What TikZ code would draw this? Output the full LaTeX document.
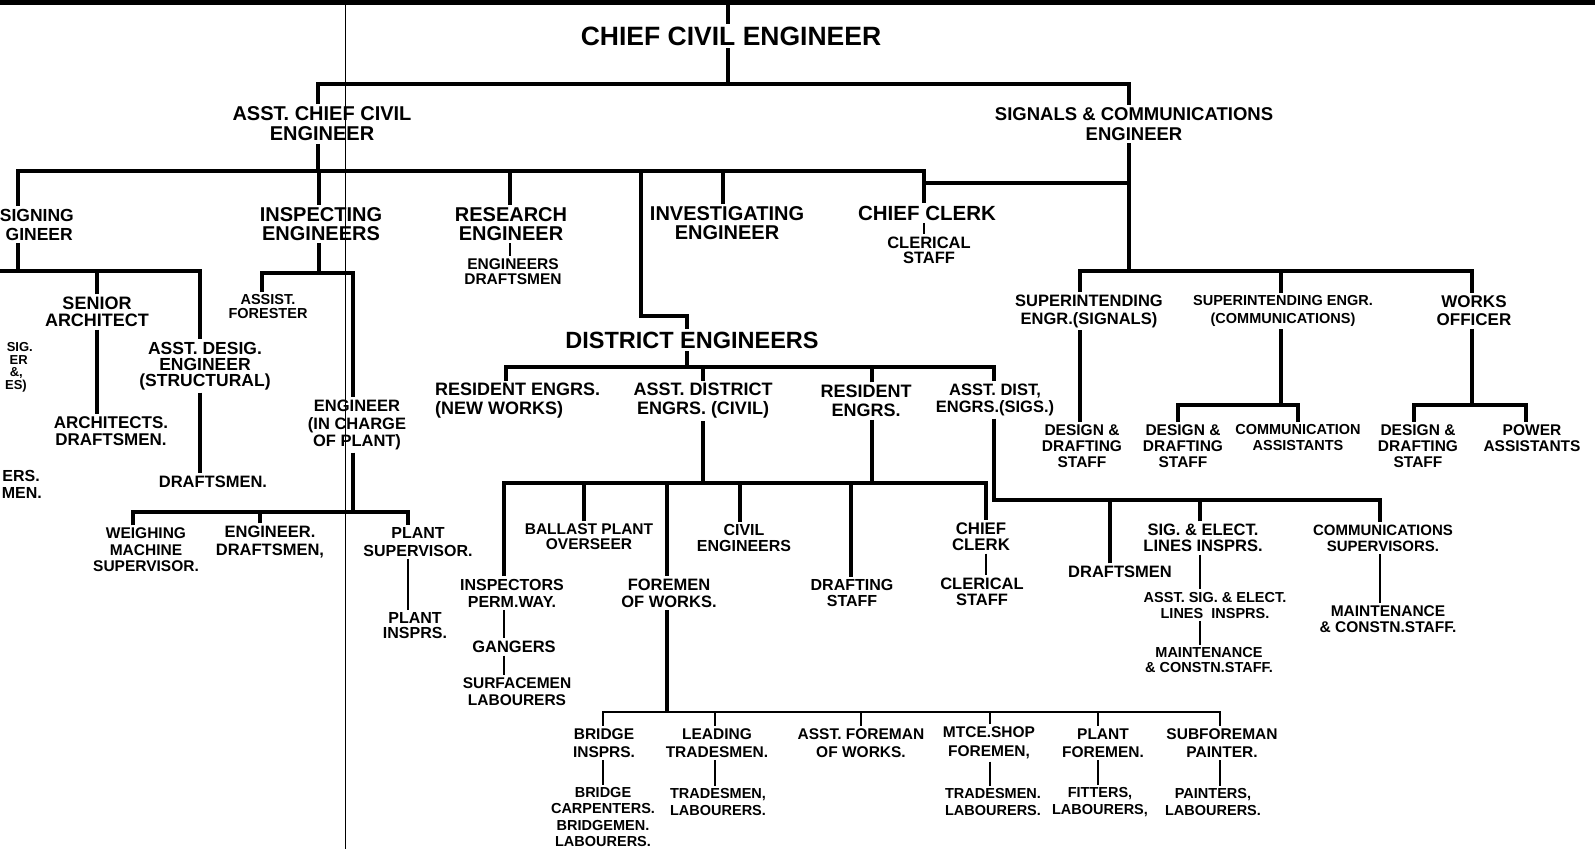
\documentclass[tikz,border=0pt]{standalone}
\usepackage{fontspec}
\setmainfont{Liberation Sans}
\newcommand\mkcp[2]{\coordinate (#1-t) at ([xshift=#2]#1.north);\coordinate (#1-b) at ([xshift=#2]#1.south);}
\begin{document}
\begin{tikzpicture}[x=1pt,y=-1pt,
  lab/.style={inner sep=2.5pt,align=center},
  fs/.style 2 args={font=\bfseries\fontsize{#1}{#2}\selectfont},
  conn/.style={line width=3.5pt,line join=miter},
  conn2/.style={line width=2.7pt},
  thinc/.style={line width=1.8pt}]
\path[use as bounding box] (0,0) rectangle (1595,849);
\fill[white] (0,0) rectangle (1595,849);
\clip (0,0) rectangle (1595,849);
\fill (0,0) rectangle (1595,5);
\draw[line width=0.9pt] (345,0) -- (345,849);
\coordinate (topbar) at (0,4);
\coordinate (y1) at (0,84);
\coordinate (y2) at (0,171);
\coordinate (y2b) at (0,183);
\coordinate (y3) at (0,271);
\coordinate (yd) at (0,271);
\coordinate (y5) at (0,273);
\coordinate (y6) at (0,512);
\coordinate (yinv) at (0,316);
\coordinate (y7) at (0,367);
\coordinate (y8) at (0,483);
\coordinate (y9) at (0,500);
\coordinate (y10) at (0,405);
\coordinate (y11) at (0,712);
\coordinate (xinv) at (641,0);
\coordinate (xdes) at (18,0);
\coordinate (xl) at (-10,0);
% ---- top levels
\node[lab,fs={26.5}{28}] (cce) at (731,36) {CHIEF CIVIL ENGINEER};
\node[lab,fs={20}{20}] (acce) at (322,124) {ASST.\ CHIEF CIVIL\\ENGINEER};
\node[lab,fs={18.5}{20}] (sce) at (1134,124) {SIGNALS \& COMMUNICATIONS\\ENGINEER};
\node[lab,fs={17.5}{19},anchor=east] (des1) at (76.5,215) {SIGNING};
\node[lab,fs={17.5}{19},anchor=east] (des2) at (75.5,234) {GINEER};
\node[lab,fs={20}{19}] (insp) at (321,224) {INSPECTING\\ENGINEERS};
\node[lab,fs={20}{19}] (res) at (511,224) {RESEARCH\\ENGINEER};
\node[lab,fs={20}{19}] (inv) at (727,223) {INVESTIGATING\\ENGINEER};
\node[lab,fs={20.5}{20}] (cc) at (927,213) {CHIEF CLERK};
\node[lab,fs={16.5}{15}] (ccs) at (929,250) {CLERICAL\\STAFF};
\node[lab,fs={15.5}{15}] (resd) at (513,272) {ENGINEERS\\DRAFTSMEN};
% ---- signals side
\node[lab,fs={16.5}{18}] (sup1) at (1089,311) {SUPERINTENDING\\ENGR.(SIGNALS)};
\node[lab,fs={14.5}{18}] (sup2) at (1283,311) {SUPERINTENDING ENGR.\\(COMMUNICATIONS)};
\node[lab,fs={17}{18}] (wo) at (1474,311) {WORKS\\OFFICER};
\node[lab,fs={15.5}{16}] (dd1) at (1082,446) {DESIGN \&\\DRAFTING\\STAFF};
\node[lab,fs={15.5}{16}] (dd2) at (1183,446) {DESIGN \&\\DRAFTING\\STAFF};
\node[lab,fs={14.5}{16}] (ca) at (1298,438) {COMMUNICATION\\ASSISTANTS};
\node[lab,fs={15.5}{16}] (dd3) at (1418,446) {DESIGN \&\\DRAFTING\\STAFF};
\node[lab,fs={15.5}{16}] (pa) at (1532,438) {POWER\\ASSISTANTS};
% ---- designing side
\node[lab,fs={18}{17}] (sa) at (97,312) {SENIOR\\ARCHITECT};
\node[lab,fs={17.5}{16}] (ade) at (205,366) {ASST.\ DESIG.\\ENGINEER\\(STRUCTURAL)};
\node[lab,fs={17}{17}] (ad) at (111,431) {ARCHITECTS.\\DRAFTSMEN.};
\node[lab,fs={16.5}{16}] (dsm1) at (213,482) {DRAFTSMEN.};
\node[lab,fs={13}{13},inner sep=1pt,anchor=east] (fr1) at (34,347) {SIG.};
\node[lab,fs={13}{13},inner sep=1pt,anchor=east] (fr2) at (29,360) {ER};
\node[lab,fs={13}{13},inner sep=1pt,anchor=east] (fr3) at (24,373) {\&,};
\node[lab,fs={13}{13},inner sep=1pt,anchor=east] (fr4) at (28,386) {ES)};
\node[lab,fs={16}{16},anchor=east] (fr5) at (42.5,476) {ERS.};
\node[lab,fs={16}{16},anchor=east] (fr6) at (44.5,493) {MEN.};
% ---- inspecting side
\node[lab,fs={14.5}{14}] (af) at (268,307) {ASSIST.\\FORESTER};
\node[lab,fs={16.5}{17.5}] (eic) at (357,425) {ENGINEER\\(IN CHARGE\\OF PLANT)};
\node[lab,fs={15.5}{16.5}] (wm) at (146,550) {WEIGHING\\MACHINE\\SUPERVISOR.};
\node[lab,fs={16.5}{18}] (ed) at (270,542) {ENGINEER.\\DRAFTSMEN,};
\node[lab,fs={16}{18}] (ps) at (418,542) {PLANT\\SUPERVISOR.};
\node[lab,fs={16}{15}] (pi) at (415,626) {PLANT\\INSPRS.};
% ---- district
\node[lab,fs={23.5}{24}] (de) at (692,340) {DISTRICT ENGINEERS};
\node[lab,fs={18}{19},align=left,anchor=west] (re1) at (432.5,401) {RESIDENT ENGRS.\\(NEW WORKS)};
\node[lab,fs={18}{19}] (ade2) at (703,401) {ASST.\ DISTRICT\\ENGRS.\ (CIVIL)};
\node[lab,fs={18}{19}] (re2) at (866,401) {RESIDENT\\ENGRS.};
\node[lab,fs={16.5}{17}] (ads) at (995,400) {ASST.\ DIST,\\ENGRS.(SIGS.)};
% ---- civil level
\node[lab,fs={15.5}{15}] (bpo) at (589,537) {BALLAST PLANT\\OVERSEER};
\node[lab,fs={16}{16}] (ce) at (744,538) {CIVIL\\ENGINEERS};
\node[lab,fs={16}{17}] (ip) at (512,593) {INSPECTORS\\PERM.WAY.};
\node[lab,fs={16.5}{17}] (fw) at (669,593) {FOREMEN\\OF WORKS.};
\node[lab,fs={16}{16}] (ds) at (852,593) {DRAFTING\\STAFF};
\node[lab,fs={16.8}{16}] (cc2) at (981,537) {CHIEF\\CLERK};
\node[lab,fs={16.5}{16}] (ccs2) at (982,592) {CLERICAL\\STAFF};
\node[lab,fs={16.5}{17}] (gang) at (514,647) {GANGERS};
\node[lab,fs={15.5}{17}] (sl) at (517,692) {SURFACEMEN\\LABOURERS};
% ---- sigs level
\node[lab,fs={16.5}{16}] (dsm2) at (1120,572) {DRAFTSMEN};
\node[lab,fs={16.5}{16}] (sig) at (1203,538) {SIG.\ \& ELECT.\\LINES INSPRS.};
\node[lab,fs={14.5}{16}] (asig) at (1215,605) {ASST.\ SIG.\ \& ELECT.\\LINES\ \ INSPRS.};
\node[lab,fs={14.5}{15}] (mc1) at (1209,660) {MAINTENANCE\\\& CONSTN.STAFF.};
\node[lab,fs={15}{16}] (cs) at (1383,538) {COMMUNICATIONS\\SUPERVISORS.};
\node[lab,fs={15.5}{16}] (mc2) at (1388,619) {MAINTENANCE\\\& CONSTN.STAFF.};
% ---- foremen level
\node[lab,fs={15.5}{18.5}] (bi) at (604,743) {BRIDGE\\INSPRS.};
\node[lab,fs={15.5}{18.5}] (lt) at (717,743) {LEADING\\TRADESMEN.};
\node[lab,fs={15.5}{18.5}] (afw) at (861,743) {ASST.\ FOREMAN\\OF WORKS.};
\node[lab,fs={15.5}{18.5}] (mtce) at (989,743) {MTCE.SHOP\\FOREMEN,};
\node[lab,fs={15.5}{18.5}] (pf) at (1103,743) {PLANT\\FOREMEN.};
\node[lab,fs={15.5}{18.5}] (sp) at (1222,743) {SUBFOREMAN\\PAINTER.};
\node[lab,fs={14.5}{16.3}] (bcl) at (603,817) {BRIDGE\\CARPENTERS.\\BRIDGEMEN.\\LABOURERS.};
\node[lab,fs={14.5}{17}] (tl1) at (718,802) {TRADESMEN,\\LABOURERS.};
\node[lab,fs={14.5}{17}] (tl2) at (993,802) {TRADESMEN.\\LABOURERS.};
\node[lab,fs={14.5}{17}] (fl) at (1100,802) {FITTERS,\\LABOURERS,};
\node[lab,fs={14.5}{17}] (pl) at (1213,802) {PAINTERS,\\LABOURERS.};
% ---- connection points
\coordinate (des-t) at (xdes |- des1.north);
\coordinate (des-b) at (xdes |- des2.south);
\mkcp{cce}{-3}\mkcp{acce}{-4}\mkcp{sce}{-5}\mkcp{insp}{-2}\mkcp{res}{-1}
\mkcp{inv}{-4}\mkcp{cc}{-3}\mkcp{sup1}{-9}\mkcp{sup2}{-2}\mkcp{wo}{-2}\mkcp{dd1}{-2}
\mkcp{dd2}{-5}\mkcp{ca}{0}\mkcp{dd3}{-4}\mkcp{pa}{-6}\mkcp{sa}{0}\mkcp{ade}{-5}
\mkcp{af}{-6}\mkcp{eic}{-4}\mkcp{wm}{-13}\mkcp{ed}{-10}\mkcp{ps}{-10}\mkcp{de}{-5}
\mkcp{ade2}{0}\mkcp{re2}{6}\mkcp{ads}{-1}\mkcp{ip}{-8}\mkcp{bpo}{-5}\mkcp{fw}{-2}
\mkcp{ce}{-4}\mkcp{ds}{-1}\mkcp{cc2}{5}\mkcp{dsm2}{-10}\mkcp{sig}{-3}\mkcp{cs}{-3}
\mkcp{bi}{-1}\mkcp{lt}{-2}\mkcp{afw}{0}\mkcp{mtce}{1}\mkcp{pf}{-5}\mkcp{sp}{-2}
\coordinate (re1-t) at ([xshift=73.5]re1.north west);
% ---- connectors
\draw[conn] (cce-t) -- (cce-t |- topbar);
\draw[conn] (cce-b) -- (cce-b |- y1);
\draw[conn] (acce-t) -- (acce-t |- y1) -- (sce-t |- y1) -- (sce-t);
\draw[conn] (acce-b) -- (acce-b |- y2);
\draw[conn] (des-t) -- (des-t |- y2) -- (cc-t |- y2) -- (cc-t);
\draw[conn] (insp-t) -- (insp-t |- y2);
\draw[conn] (res-t) -- (res-t |- y2);
\draw[conn] (inv-t) -- (inv-t |- y2);
\draw[conn] (xinv |- y2) -- (xinv |- yinv) -- (de-t |- yinv) -- (de-t);
\draw[conn] (cc-t |- y2b) -- (sce-b |- y2b);
\draw[conn] (sce-b) -- (sce-b |- y3);
\draw[thinc] (cc-b) -- (cc-b |- ccs.north);
\draw[thinc] (res-b) -- (res-b |- resd.north);
% signals
\draw[conn] (sup1-t) -- (sup1-t |- y3) -- (wo-t |- y3) -- (wo-t);
\draw[conn] (sup2-t) -- (sup2-t |- y3);
\draw[conn] (sup1-b) -- (sup1-b |- dd1.north);
\draw[conn] (sup2-b) -- (sup2-b |- y10);
\draw[conn] (dd2-t) -- (dd2-t |- y10) -- (ca-t |- y10) -- (ca-t);
\draw[conn] (wo-b) -- (wo-b |- y10);
\draw[conn] (dd3-t) -- (dd3-t |- y10) -- (pa-t |- y10) -- (pa-t);
% designing
\draw[conn] (des-b) -- (des-b |- yd);
\draw[conn] (xl |- yd) -- (ade-t |- yd) -- (ade-t);
\draw[conn] (sa-t) -- (sa-t |- yd);
\draw[conn] (sa-b) -- (sa-b |- ad.north);
\draw[conn] (ade-b) -- (ade-b |- dsm1.north);
% inspecting
\draw[conn] (insp-b) -- (insp-b |- y5);
\draw[conn] (af-t) -- (af-t |- y5) -- (eic-t |- y5) -- (eic-t);
\draw[conn] (eic-b) -- (eic-b |- y6);
\draw[conn] (wm-t) -- (wm-t |- y6) -- (ps-t |- y6) -- (ps-t);
\draw[conn] (ed-t) -- (ed-t |- y6);
\draw[conn2] (ps-b) -- (ps-b |- pi.north);
% district
\draw[conn] (de-b) -- (de-b |- y7);
\draw[conn] (re1-t) -- (re1-t |- y7) -- (ads-t |- y7) -- (ads-t);
\draw[conn] (ade2-t) -- (ade2-t |- y7);
\draw[conn] (re2-t) -- (re2-t |- y7);
% civil
\draw[conn] (ade2-b) -- (ade2-b |- y8);
\draw[conn] (re2-b) -- (re2-b |- y8);
\draw[conn] (ip-t) -- (ip-t |- y8) -- (cc2-t |- y8) -- (cc2-t);
\draw[conn] (bpo-t) -- (bpo-t |- y8);
\draw[conn] (fw-t) -- (fw-t |- y8);
\draw[conn] (ce-t) -- (ce-t |- y8);
\draw[conn] (ds-t) -- (ds-t |- y8);
\draw[conn2] (cc2-b) -- (cc2-b |- ccs2.north);
\draw[conn2] (ip-b) -- (ip-b |- gang.north);
\draw[thinc] (ip-b |- gang.south) -- (ip-b |- sl.north);
% sigs
\draw[conn] (ads-b) -- (ads-b |- y9) -- (cs-t |- y9) -- (cs-t);
\draw[conn] (dsm2-t) -- (dsm2-t |- y9);
\draw[conn] (sig-t) -- (sig-t |- y9);
\draw[conn2] (sig-b) -- (sig-b |- asig.north);
\draw[conn2] (sig-b |- asig.south) -- (sig-b |- mc1.north);
\draw[conn2] (cs-b) -- (cs-b |- mc2.north);
% foremen
\draw[conn] (fw-b) -- (fw-b |- y11);
\draw[conn2] (bi-t) -- (bi-t |- y11) -- (sp-t |- y11) -- (sp-t);
\draw[conn2] (lt-t) -- (lt-t |- y11);
\draw[conn2] (afw-t) -- (afw-t |- y11);
\draw[conn2] (mtce-t) -- (mtce-t |- y11);
\draw[conn2] (pf-t) -- (pf-t |- y11);
\draw[thinc] (bi-b) -- (bi-b |- bcl.north);
\draw[thinc] (lt-b) -- (lt-b |- tl1.north);
\draw[thinc] (mtce-b) -- (mtce-b |- tl2.north);
\draw[thinc] (pf-b) -- (pf-b |- fl.north);
\draw[thinc] (sp-b) -- (sp-b |- pl.north);
\end{tikzpicture}
\end{document}
